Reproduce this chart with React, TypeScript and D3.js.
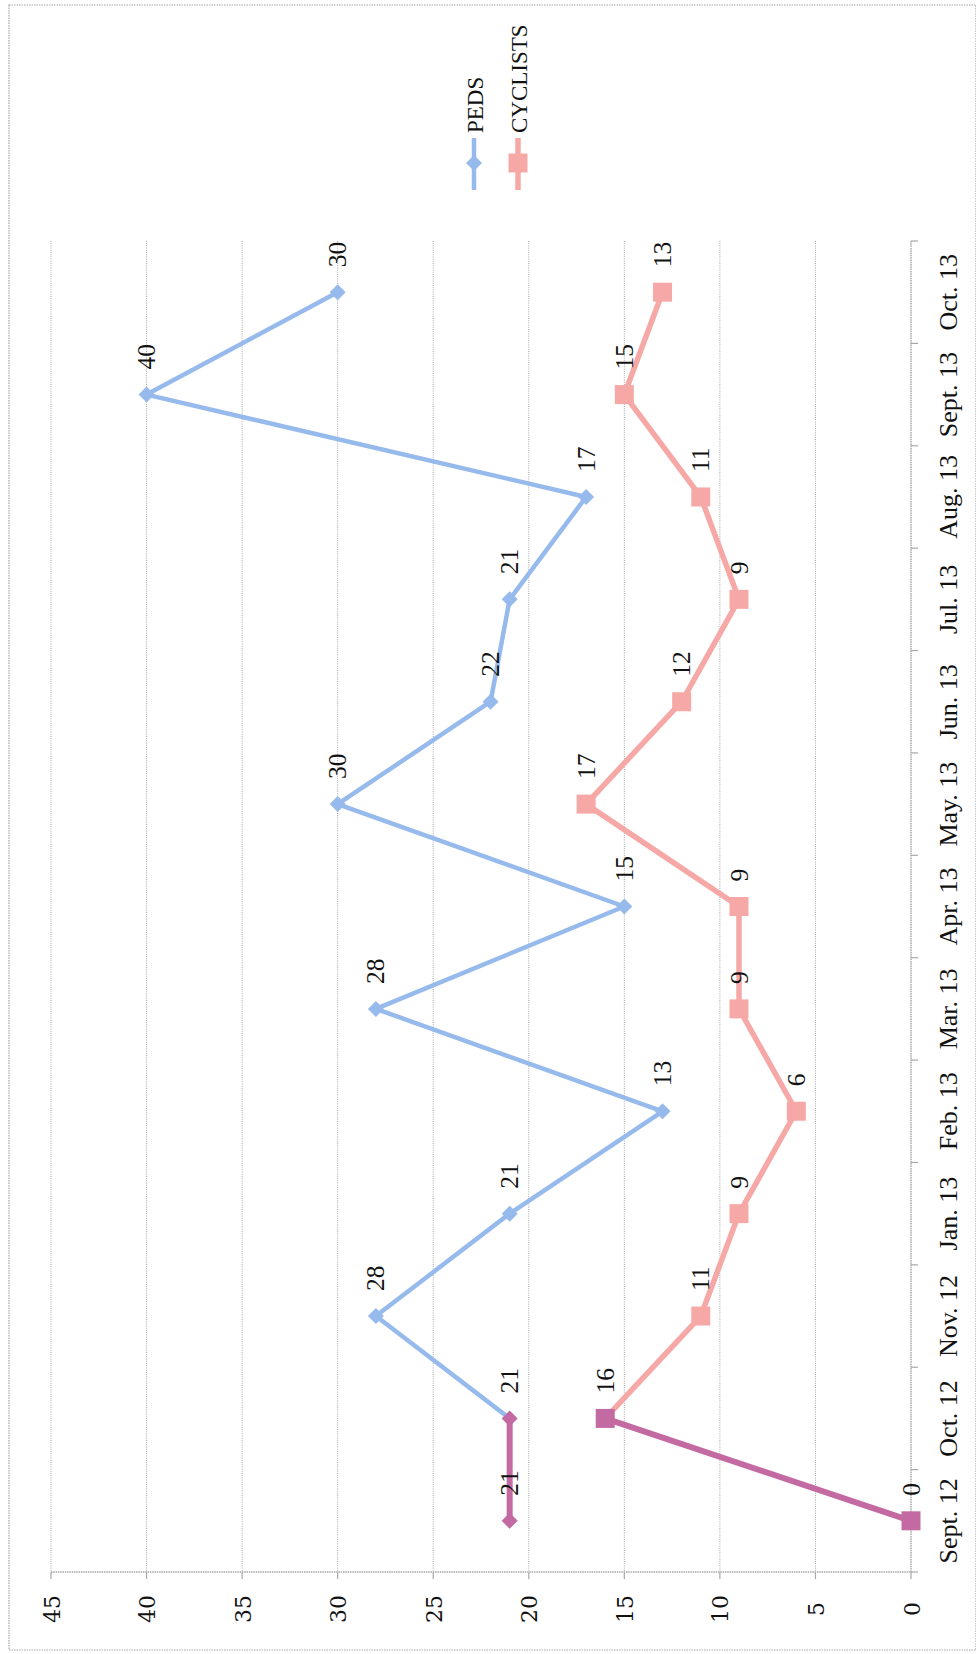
import React from "react";
import * as d3 from "d3";

const categories = ["Sept. 12", "Oct. 12", "Nov. 12", "Jan. 13", "Feb. 13", "Mar. 13", "Apr. 13", "May. 13", "Jun. 13", "Jul. 13", "Aug. 13", "Sept. 13", "Oct. 13"];
const peds = [21, 21, 28, 21, 13, 28, 15, 30, 22, 21, 17, 40, 30];
const cyclists = [0, 16, 11, 9, 6, 9, 9, 17, 12, 9, 11, 15, 13];
const highlighted = ["Sept. 12", "Oct. 12"];
const valueTicks = [0, 5, 10, 15, 20, 25, 30, 35, 40, 45];
const seriesNames = ["PEDS", "CYCLISTS"];

const W = 976;
const H = 1654;
const BLUE = "#97BAEC";
const PINK = "#F6A8A6";
const MAGENTA = "#C46AA3";
const GRID = "#A8A8A8";

export default function App() {
  const v = d3.scaleLinear().domain([0, 45]).range([911, 51]);
  const band = d3.scaleBand().domain(categories).range([1572, 241]);
  const bw = band.bandwidth();
  const cy = (c: string) => (band(c) as number) + bw / 2;
  const line = d3.line<[number, number]>().x((d) => d[0]).y((d) => d[1]);

  const series = [
    { name: seriesNames[0], values: peds, color: BLUE, width: 4.5, marker: "diamond" },
    { name: seriesNames[1], values: cyclists, color: PINK, width: 5.5, marker: "square" },
  ];

  const markerPath = (type: string, x: number, y: number) => {
    if (type === "diamond") {
      const r = 8;
      return `M${x},${y - r}L${x + r},${y}L${x},${y + r}L${x - r},${y}Z`;
    }
    const s = 9.5;
    return `M${x - s},${y - s}H${x + s}V${y + s}H${x - s}Z`;
  };

  const fontSerif = "'Liberation Serif', 'Times New Roman', serif";
  const fontNum = "'DejaVu Serif', serif";

  return (
    <svg width={W} height={H} style={{ position: "absolute", left: 0, top: 0, background: "#fff" }}>
      <rect x={9} y={5} width={967} height={1645} fill="#fff" stroke="#A6A6A6" strokeWidth={1.2} strokeDasharray="1.5,1" />
      {/* gridlines */}
      {valueTicks.map((t) => (
        <g key={"g" + t}>
          {t !== 0 && (
            <line x1={v(t)} x2={v(t)} y1={241} y2={1572} stroke={GRID} strokeWidth={1} strokeDasharray="1,1.2" />
          )}
          <line x1={v(t)} x2={v(t)} y1={1572} y2={1579} stroke={GRID} strokeWidth={1.2} />
          <text
            transform={`translate(${v(t) + 8.5},${1609}) rotate(-90)`}
            textAnchor="middle"
            fontFamily={fontNum}
            fontSize={22}
            fill="#111"
          >
            {t}
          </text>
        </g>
      ))}
      {/* value axis line (bottom) */}
      <line x1={v(45)} x2={v(0)} y1={1572} y2={1572} stroke={GRID} strokeWidth={1.5} strokeDasharray="1.5,0.8" />
      {/* category axis line (right) */}
      <line x1={v(0)} x2={v(0)} y1={241} y2={1572} stroke={GRID} strokeWidth={1.5} strokeDasharray="1.5,0.8" />
      {categories.map((c, i) => (
        <g key={"c" + c}>
          <line x1={v(0)} x2={v(0) + 7} y1={band(c) as number} y2={band(c) as number} stroke={GRID} strokeWidth={1.2} />
          {i === 0 && <line x1={v(0)} x2={v(0) + 7} y1={1572} y2={1572} stroke={GRID} strokeWidth={1.2} />}
          <text
            transform={`translate(${957},${cy(c)}) rotate(-90)`}
            textAnchor="middle"
            fontFamily={fontSerif}
            fontSize={26}
            fill="#111"
          >
            {c}
          </text>
        </g>
      ))}
      {/* series */}
      {series.map((s) => (
        <g key={s.name}>
          {categories.slice(1).map((c, i) => {
            const p0: [number, number] = [v(s.values[i]), cy(categories[i])];
            const p1: [number, number] = [v(s.values[i + 1]), cy(c)];
            const hl = highlighted.includes(c);
            return (
              <path
                key={"seg" + c}
                d={line([p0, p1]) as string}
                fill="none"
                stroke={hl ? MAGENTA : s.color}
                strokeWidth={hl ? 6 : s.width}
                strokeLinecap="round"
              />
            );
          })}
          {categories.map((c, i) => (
            <path
              key={"m" + c}
              d={markerPath(s.marker, v(s.values[i]), cy(c))}
              fill={highlighted.includes(c) ? MAGENTA : s.color}
            />
          ))}
          {categories.map((c, i) => (
            <text
              key={"l" + c}
              transform={`translate(${v(s.values[i]) + 8.5},${cy(c) - 25}) rotate(-90)`}
              textAnchor="start"
              fontFamily={fontSerif}
              fontSize={25.5}
              fill="#111"
            >
              {s.values[i]}
            </text>
          ))}
        </g>
      ))}
      {/* legend */}
      {series.map((s, i) => {
        const x = 474 + i * 44;
        return (
          <g key={"leg" + s.name}>
            <line x1={x} x2={x} y1={138} y2={190} stroke={s.color} strokeWidth={s.width} />
            <path d={markerPath(s.marker, x, 163)} fill={s.color} />
            <text
              transform={`translate(${x + 9},${133}) rotate(-90)`}
              textAnchor="start"
              fontFamily={fontSerif}
              fontSize={23}
              fill="#111"
            >
              {s.name}
            </text>
          </g>
        );
      })}
    </svg>
  );
}
